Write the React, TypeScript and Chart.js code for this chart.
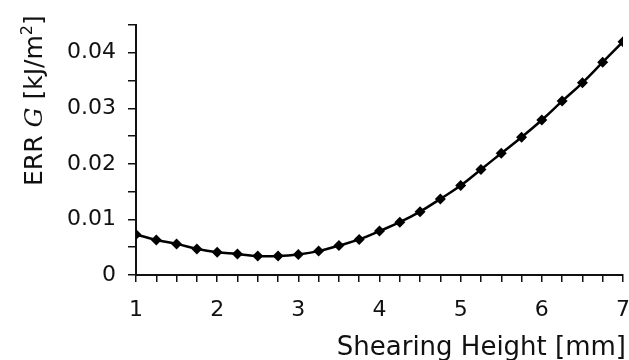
import React, { useEffect, useRef } from "react";
import { Chart, registerables } from "chart.js";

Chart.register(...registerables);

const heights = [1, 1.25, 1.5, 1.75, 2, 2.25, 2.5, 2.75, 3, 3.25, 3.5, 3.75, 4, 4.25, 4.5, 4.75, 5, 5.25, 5.5, 5.75, 6, 6.25, 6.5, 6.75, 7];
const errValues = [0.0073, 0.0063, 0.0056, 0.0047, 0.0041, 0.0038, 0.0034, 0.0034, 0.0037, 0.0043, 0.0053, 0.0064, 0.0079, 0.0095, 0.0114, 0.0137, 0.0161, 0.019, 0.0219, 0.0248, 0.0279, 0.0313, 0.0346, 0.0383, 0.042];
const xTitle = "Shearing Height [mm]";
const yTitleParts = ["ERR ", "G", " [kJ/m", "2", "]"];

const FONT = "DejaVu Sans";

const titlePlugin = {
  id: "titles",
  afterDraw(chart: any) {
    const ctx = chart.ctx as CanvasRenderingContext2D;
    ctx.save();
    ctx.fillStyle = "#111";
    // x title
    ctx.font = `26px "${FONT}"`;
    ctx.textAlign = "right";
    ctx.textBaseline = "alphabetic";
    ctx.fillText(xTitle, 626, 355);
    // y title (rotated)
    ctx.translate(42, 186);
    ctx.rotate(-Math.PI / 2);
    ctx.textAlign = "left";
    let x = 0;
    const fonts = [
      `25px "${FONT}"`,
      `italic 25px "DejaVu Serif"`,
      `25px "${FONT}"`,
      `16px "${FONT}"`,
      `25px "${FONT}"`,
    ];
    yTitleParts.forEach((t, i) => {
      ctx.font = fonts[i];
      const dy = i === 3 ? -10 : 0;
      ctx.fillText(t, x, dy);
      x += ctx.measureText(t).width;
    });
    ctx.restore();
  },
};

export default function App() {
  const ref = useRef<HTMLCanvasElement>(null);
  useEffect(() => {
    document.body.style.margin = "0";
    const chart = new Chart(ref.current!, {
      type: "line",
      data: {
        datasets: [
          {
            data: heights.map((h, i) => ({ x: h, y: errValues[i] })),
            borderColor: "#000",
            backgroundColor: "#000",
            borderWidth: 2.5,
            tension: 0.4,
            pointStyle: "rectRot",
            pointRadius: 5.5,
            pointBorderWidth: 0,
          },
        ],
      },
      options: {
        responsive: false,
        animation: false,
        layout: { padding: { left: 0, top: 25, right: 6, bottom: 0 } },
        plugins: { legend: { display: false }, tooltip: { enabled: false } },
        scales: {
          x: {
            type: "linear",
            min: 1,
            max: 7,
            afterFit(scale: any) {
              scale.height = 85;
              scale.paddingLeft = 0;
              scale.paddingRight = 0;
            },
            border: { color: "#111", width: 2 },
            grid: { drawOnChartArea: false, drawTicks: true, tickLength: 7, color: "#111", lineWidth: 1.5 },
            ticks: {
              stepSize: 0.25,
              autoSkip: false,
              maxRotation: 0,
              padding: 15,
              color: "#111",
              font: { family: FONT, size: 22 },
              callback: (v: any) => (Math.abs(v - Math.round(v)) < 1e-6 ? String(Math.round(v)) : ""),
            },
          },
          y: {
            min: 0,
            max: 0.045,
            afterFit(scale: any) {
              scale.width = 136;
              scale.paddingTop = 0;
              scale.paddingBottom = 0;
            },
            border: { color: "#111", width: 2 },
            grid: { drawOnChartArea: false, drawTicks: true, tickLength: 8, color: "#111", lineWidth: 1.5 },
            ticks: {
              stepSize: 0.005,
              autoSkip: false,
              padding: 12,
              color: "#111",
              font: { family: FONT, size: 22 },
              callback: (v: any) => {
                const k = Math.round(v * 1000);
                if (k % 10 !== 0) return "";
                return k === 0 ? "0" : (k / 1000).toFixed(2);
              },
            },
          },
        },
      },
      plugins: [titlePlugin],
    });
    return () => chart.destroy();
  }, []);
  return (
    <div style={{ width: 629, height: 360 }}>
      <canvas ref={ref} width={629} height={360} style={{ display: "block" }} />
    </div>
  );
}
